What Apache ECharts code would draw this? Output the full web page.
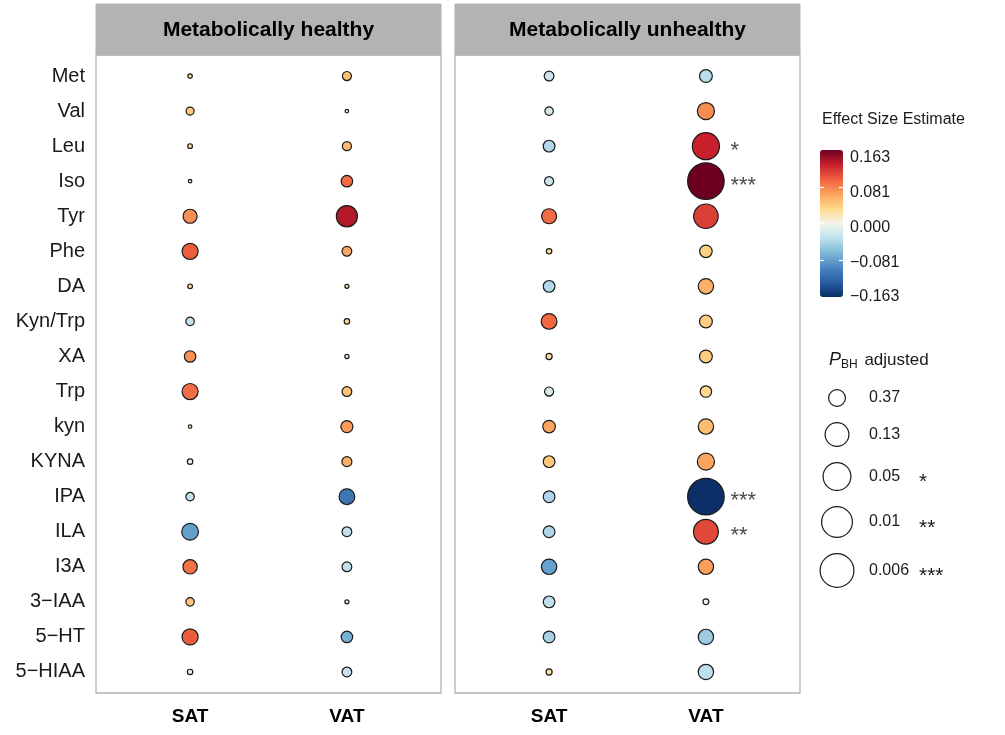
<!DOCTYPE html>
<html><head><meta charset="utf-8">
<script src="https://cdn.jsdelivr.net/npm/echarts@6/dist/echarts.min.js"></script>
<style>html,body{margin:0;padding:0;background:#fff}#c{width:1005px;height:735px}</style>
</head><body><div id="c"></div>
<script>
// ---------------- data ----------------
const metabolites = ['Met','Val','Leu','Iso','Tyr','Phe','DA','Kyn/Trp','XA','Trp','kyn','KYNA','IPA','ILA','I3A','3\u2212IAA','5\u2212HT','5\u2212HIAA'];
const depots = ['SAT','VAT'];
const panelTitles = ['Metabolically healthy','Metabolically unhealthy'];

const healthySAT_est = [0.028,0.043,0.025,0.010,0.075,0.100,0.028,-0.028,0.075,0.092,0.020,-0.005,-0.030,-0.082,0.090,0.045,0.100,-0.008];
const healthySAT_p   = [0.89,0.69,0.87,0.95,0.45,0.39,0.87,0.67,0.54,0.39,0.95,0.83,0.67,0.37,0.44,0.67,0.39,0.83];
const healthyVAT_est = [0.048,0.010,0.050,0.092,0.138,0.062,0.020,0.030,0.015,0.045,0.070,0.058,-0.110,-0.030,-0.030,0.005,-0.070,-0.030];
const healthyVAT_p   = [0.64,0.95,0.64,0.54,0.195,0.61,0.91,0.83,0.91,0.61,0.52,0.60,0.40,0.61,0.61,0.91,0.54,0.61];
const unhealthySAT_est = [-0.025,-0.018,-0.040,-0.025,0.093,0.028,-0.038,0.095,0.028,-0.018,0.063,0.042,-0.042,-0.042,-0.080,-0.033,-0.045,0.028];
const unhealthySAT_p   = [0.61,0.67,0.53,0.64,0.42,0.83,0.53,0.40,0.79,0.64,0.50,0.53,0.53,0.53,0.41,0.53,0.53,0.79];
const unhealthyVAT_est = [-0.035,0.076,0.130,0.163,0.115,0.038,0.058,0.040,0.040,0.033,0.050,0.065,-0.163,0.110,0.067,0.000,-0.050,-0.033];
const unhealthyVAT_p   = [0.49,0.354,0.059,0.0022,0.11,0.50,0.41,0.49,0.49,0.54,0.41,0.354,0.0022,0.102,0.41,0.81,0.41,0.41];
const unhealthyVAT_sig = ['','','*','***','','','','','','','','','***','**','','','',''];

const colorTickValues = [-0.163,-0.0815,0,0.0815,0.163];
const colorTickLabels = ['\u22120.163','\u22120.081','0.000','0.081','0.163'];
const sizeLegendP = [0.37,0.13,0.05,0.01,0.006];
const sizeLegendLabels = ['0.37','0.13','0.05','0.01','0.006'];
const sizeLegendStars = ['','','*','**','***'];

// ---------------- scales / styles ----------------
const sizeAnchors = [[1,4],[0.37,18],[0.13,25],[0.05,29],[0.01,32],[0.006,35],[0.002,38]];
function diam(p){
  const s = -Math.log10(p);
  for (let i=1;i<sizeAnchors.length;i++){
    const s0=-Math.log10(sizeAnchors[i-1][0]), s1=-Math.log10(sizeAnchors[i][0]);
    if (s<=s1 || i===sizeAnchors.length-1){
      const t=(s-s0)/(s1-s0);
      return sizeAnchors[i-1][1]+t*(sizeAnchors[i][1]-sizeAnchors[i-1][1]);
    }
  }
}
const rampColors = ['#0b2f66','#2a5ba5','#4a86bf','#80b7d8','#bfe0ee','#f3f6ea','#fed98b','#fca35d','#ef6140','#c8202d','#6d0020'];
const FONT = 'Liberation Sans, Arial, Helvetica, sans-serif';
const BORDER = 1.2;
const panels = [{left:96, top:55, width:345, height:638},{left:455, top:55, width:345, height:638}];

function buildPoints(satEst, satP, vatEst, vatP){
  const pts=[];
  metabolites.forEach((m,i)=>{
    pts.push({value:[1,i+1,satEst[i],satP[i]]});
    pts.push({value:[2,i+1,vatEst[i],vatP[i]]});
  });
  pts.sort((a,b)=>a.value[3]-b.value[3]); // big circles first, small on top
  return pts;
}
const starPts = [];
unhealthyVAT_sig.forEach((s,i)=>{ if(s) starPts.push({value:[2,i+1], sig:s}); });

function nearInt(v){ const k=Math.round(v); return Math.abs(v-k)<1e-6 ? k : null; }

const xAxes = panels.map((p,gi)=>({
  type:'value', gridIndex:gi, min:0.4, max:2.6, interval:0.2,
  axisLine:{show:false}, axisTick:{show:false}, splitLine:{show:false},
  axisLabel:{fontFamily:FONT, fontSize:19, fontWeight:'bold', color:'#000', margin:14,
    formatter:v=>{const k=nearInt(v); return (k===1||k===2)?depots[k-1]:'';}}
}));
const yAxes = panels.map((p,gi)=>({
  type:'value', gridIndex:gi, min:0.4, max:18.6, interval:0.2, inverse:true,
  axisLine:{show:false}, axisTick:{show:false}, splitLine:{show:false},
  axisLabel:{show:gi===0, fontFamily:FONT, fontSize:20, color:'#1a1a1a', margin:11,
    formatter:v=>{const k=nearInt(v); return (k&&k>=1&&k<=metabolites.length)?metabolites[k-1]:'';}}
}));
// colour bar tick grid (2) and label grid (3)
xAxes.push({type:'value', gridIndex:2, show:false, min:0, max:1});
xAxes.push({type:'value', gridIndex:3, show:false, min:0, max:1});
const tickAxis = pos => ({type:'value', gridIndex:2, position:pos, min:-0.163, max:0.163, z:10,
  axisLine:{show:false}, splitLine:{show:false}, axisLabel:{show:false},
  axisTick:{show:true, inside:true, length:4, lineStyle:{color:'#fff', width:1.2}, customValues:colorTickValues.slice(1,4)}});
yAxes.push(tickAxis('left'));
yAxes.push(tickAxis('right'));
yAxes.push({type:'value', gridIndex:3, position:'right', min:-0.163, max:0.163, interval:0.0815,
  axisLine:{show:false}, axisTick:{show:false}, splitLine:{show:false},
  axisLabel:{fontFamily:FONT, fontSize:16, color:'#1a1a1a', margin:7, showMinLabel:true, showMaxLabel:true,
    formatter:v=>{let bi=0; colorTickValues.forEach((c,i)=>{ if(Math.abs(c-v)<Math.abs(colorTickValues[bi]-v)) bi=i; }); return colorTickLabels[bi];}}});

const scatterBase = {type:'scatter', symbol:'circle', symbolSize:v=>diam(v[3])-BORDER,
  itemStyle:{borderColor:'#1a1a1a', borderWidth:BORDER, opacity:1}, emphasis:{disabled:true}, z:3};

// size legend layout
const legGraphics = [];
let cy = 398, prevD = null;
sizeLegendP.forEach((p,i)=>{
  const d = diam(p);
  if (prevD!==null) cy += (prevD+d)/2 + 15;
  prevD = d;
  legGraphics.push({type:'circle', shape:{cx:837, cy:cy, r:(d-1.2)/2}, style:{fill:'#fff', stroke:'#1a1a1a', lineWidth:1.2}});
  legGraphics.push({type:'text', x:869, y:cy, style:{text:sizeLegendLabels[i], font:'16px '+FONT, fill:'#1a1a1a', verticalAlign:'middle'}});
  if (sizeLegendStars[i]) legGraphics.push({type:'text', x:919, y:cy+6, style:{text:sizeLegendStars[i], font:'21px '+FONT, fill:'#1a1a1a', verticalAlign:'middle'}});
});

const headerGraphics = [];
panels.forEach((p,i)=>{
  headerGraphics.push({type:'rect', shape:{x:p.left, y:4, width:p.width, height:p.top-4}, style:{fill:'#b3b3b3', stroke:'#b3b3b3', lineWidth:1}});
  headerGraphics.push({type:'text', x:p.left+p.width/2, y:30, style:{text:panelTitles[i], font:'bold 21px '+FONT, fill:'#000', align:'center', verticalAlign:'middle'}});
});

const option = {
  backgroundColor:'#fff',
  animation:false,
  grid:[
    Object.assign({show:true, borderColor:'#b3b3b3', borderWidth:1.3, backgroundColor:'#fff'}, panels[0]),
    Object.assign({show:true, borderColor:'#b3b3b3', borderWidth:1.3, backgroundColor:'#fff'}, panels[1]),
    {left:820, top:150, width:23, height:147},
    {left:820, top:158, width:23, height:139}
  ],
  xAxis:xAxes, yAxis:yAxes,
  visualMap:{type:'continuous', min:-0.163, max:0.163, dimension:2, seriesIndex:[0,1], calculable:false,
    left:820, top:150, itemWidth:23, itemHeight:147, padding:0, hoverLink:false, realtime:false,
    inRange:{color:rampColors}},
  series:[
    Object.assign({}, scatterBase, {xAxisIndex:0, yAxisIndex:0, data:buildPoints(healthySAT_est,healthySAT_p,healthyVAT_est,healthyVAT_p)}),
    Object.assign({}, scatterBase, {xAxisIndex:1, yAxisIndex:1, data:buildPoints(unhealthySAT_est,unhealthySAT_p,unhealthyVAT_est,unhealthyVAT_p)}),
    {type:'scatter', xAxisIndex:1, yAxisIndex:1, symbolSize:1, itemStyle:{color:'rgba(0,0,0,0)'}, z:4, silent:true,
      data:starPts,
      label:{show:true, position:[25,5], align:'left', verticalAlign:'middle', fontFamily:FONT, fontSize:22, color:'#1a1a1a',
        formatter:p=>p.data.sig}}
  ],
  graphic:[
    ...headerGraphics,
    {type:'text', x:822, y:120, style:{text:'Effect Size Estimate', font:'16px '+FONT, fill:'#1a1a1a', verticalAlign:'middle'}},
    {type:'text', x:829, y:360, style:{text:'{p|P}{s|BH} adjusted', font:'17px '+FONT, fill:'#1a1a1a', verticalAlign:'middle',
      rich:{p:{fontStyle:'italic', fontSize:18, fontFamily:FONT, fill:'#1a1a1a'}, s:{fontSize:12, fontFamily:FONT, padding:[10,2,0,0], fill:'#1a1a1a'}}}},
    ...legGraphics
  ]
};
const chart = echarts.init(document.getElementById('c'), null, {renderer:'canvas'});
chart.setOption(option);
</script></body></html>
